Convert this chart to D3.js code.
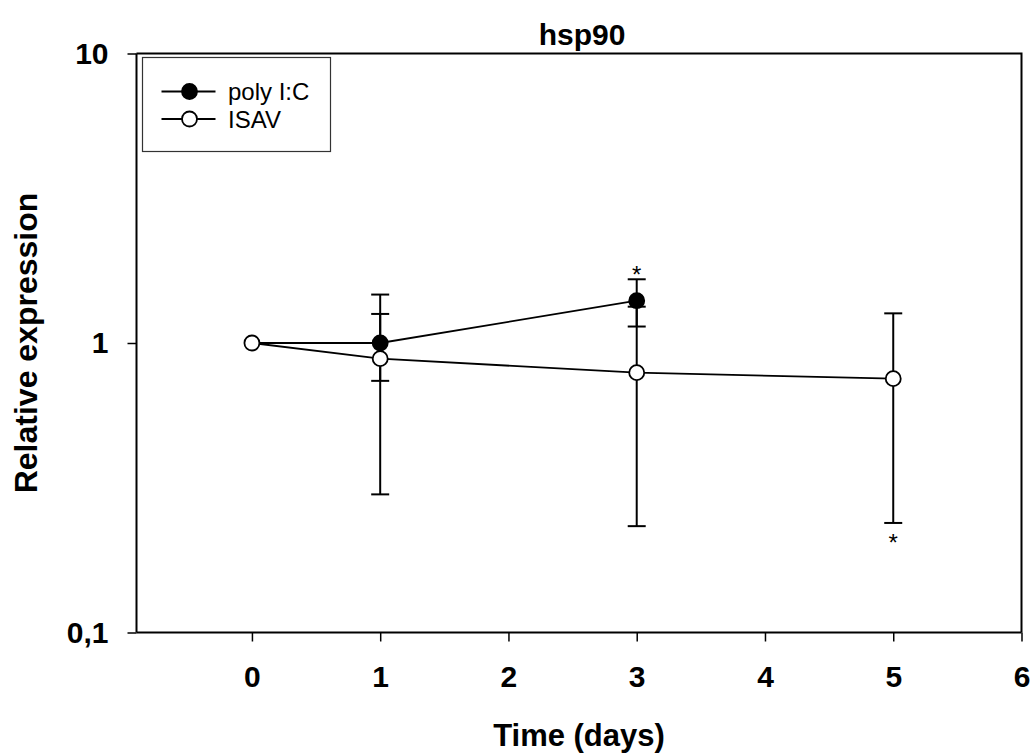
<!DOCTYPE html>
<html>
<head>
<meta charset="utf-8">
<script src="https://cdn.jsdelivr.net/npm/d3@7"></script>
<style>
  body { margin: 0; background: #fff; }
  svg { font-family: "Liberation Sans", Arial, sans-serif; }
</style>
</head>
<body>
<div id="chart"></div>
<script>
// days sampled
const days = [0, 1, 3, 5];

// poly I:C series (no day 5)
const polyDays = [0, 1, 3];
const polyMean = [1.0, 1.0, 1.40];
const polyLow = [null, 0.74, 1.14];
const polyHigh = [null, 1.26, 1.66];

// ISAV series
const isavDays = [0, 1, 3, 5];
const isavMean = [1.0, 0.883, 0.79, 0.753];
const isavLow = [null, 0.30, 0.233, 0.239];
const isavHigh = [null, 1.47, 1.335, 1.266];

const xTicks = [0, 1, 2, 3, 4, 5, 6];
const yTicks = [0.1, 1, 10];
const yTickLabels = ["0,1", "1", "10"];

const width = 1032, height = 753;
const margin = { top: 53.5, right: 10.5, bottom: 120.5, left: 136.5 };
const innerW = width - margin.left - margin.right;
const innerH = height - margin.top - margin.bottom;

const svg = d3.select("#chart").append("svg")
  .attr("width", width)
  .attr("height", height);

const g = svg.append("g")
  .attr("transform", `translate(${margin.left}, ${margin.top})`);

const x = d3.scaleLinear().domain([-0.9, 6]).range([0, innerW]);
const y = d3.scaleLog().domain([0.1, 10]).range([innerH, 0]);

// frame top + right
g.append("path")
  .attr("d", `M0,0H${innerW}V${innerH}`)
  .attr("fill", "none")
  .attr("stroke", "#000")
  .attr("stroke-width", 2);

// x axis
const xAxis = g.append("g")
  .attr("transform", `translate(0, ${innerH})`)
  .call(d3.axisBottom(x).tickValues(xTicks).tickSize(9).tickPadding(24).tickFormat(d3.format("d")));

// y axis
const yAxis = g.append("g")
  .call(d3.axisLeft(y).tickValues(yTicks).tickSize(9).tickPadding(19)
    .tickFormat((d, i) => yTickLabels[i]));

[xAxis, yAxis].forEach(ax => {
  ax.select(".domain").attr("stroke-width", 2);
  ax.selectAll(".tick line").attr("stroke-width", 1.5);
  ax.selectAll("text")
    .attr("font-size", "30px")
    .attr("font-weight", "bold")
    .attr("font-family", "Liberation Sans, Arial, sans-serif")
    .attr("fill", "#000");
});
xAxis.select(".domain").attr("d", `M0,0H${innerW}`);
yAxis.select(".domain").attr("d", `M0,${innerH}V0`);

// error bars
function drawErrors(xs, lo, hi) {
  xs.forEach((d, i) => {
    if (lo[i] == null) return;
    const cx = x(d);
    g.append("line")
      .attr("x1", cx).attr("x2", cx)
      .attr("y1", y(lo[i])).attr("y2", y(hi[i]))
      .attr("stroke", "#000").attr("stroke-width", 2);
    [lo[i], hi[i]].forEach(v => {
      g.append("line")
        .attr("x1", cx - 9).attr("x2", cx + 9)
        .attr("y1", y(v)).attr("y2", y(v))
        .attr("stroke", "#000").attr("stroke-width", 2);
    });
  });
}
drawErrors(isavDays, isavLow, isavHigh);
drawErrors(polyDays, polyLow, polyHigh);

const line = d3.line().x(d => x(d[0])).y(d => y(d[1]));

g.append("path")
  .datum(isavDays.map((d, i) => [d, isavMean[i]]))
  .attr("d", line)
  .attr("fill", "none").attr("stroke", "#000").attr("stroke-width", 1.8);

g.append("path")
  .datum(polyDays.map((d, i) => [d, polyMean[i]]))
  .attr("d", line)
  .attr("fill", "none").attr("stroke", "#000").attr("stroke-width", 1.8);

// markers
g.selectAll(".isav")
  .data(isavDays.map((d, i) => [d, isavMean[i]]))
  .enter().append("circle")
  .attr("cx", d => x(d[0])).attr("cy", d => y(d[1]))
  .attr("r", 7.5)
  .attr("fill", "#fff").attr("stroke", "#000").attr("stroke-width", 1.8);

g.selectAll(".poly")
  .data(polyDays.map((d, i) => [d, polyMean[i]]).slice(1))
  .enter().append("circle")
  .attr("cx", d => x(d[0])).attr("cy", d => y(d[1]))
  .attr("r", 7.5)
  .attr("fill", "#000").attr("stroke", "#000").attr("stroke-width", 1.8);

// significance marks
g.append("text")
  .attr("x", x(3)).attr("y", y(polyHigh[2]) + 3.5)
  .attr("text-anchor", "middle")
  .attr("font-size", "24px")
  .text("*");
g.append("text")
  .attr("x", x(5)).attr("y", y(isavLow[3]) + 28)
  .attr("text-anchor", "middle")
  .attr("font-size", "24px")
  .text("*");

// legend
const leg = g.append("g").attr("transform", "translate(6, 4)");
leg.append("rect")
  .attr("width", 188).attr("height", 94)
  .attr("fill", "#fff").attr("stroke", "#333").attr("stroke-width", 1.2);
const legItems = [
  { name: "poly I:C", fill: "#000" },
  { name: "ISAV", fill: "#fff" }
];
legItems.forEach((it, i) => {
  const ly = 34 + i * 27.5;
  leg.append("line")
    .attr("x1", 19).attr("x2", 73).attr("y1", ly).attr("y2", ly)
    .attr("stroke", "#000").attr("stroke-width", 1.8);
  leg.append("circle")
    .attr("cx", 47).attr("cy", ly).attr("r", 7.5)
    .attr("fill", it.fill).attr("stroke", "#000").attr("stroke-width", 1.8);
  leg.append("text")
    .attr("x", 85.5).attr("y", ly + 8.5)
    .attr("font-size", "24px")
    .text(it.name);
});

// titles
svg.append("text")
  .attr("x", 582).attr("y", 45)
  .attr("text-anchor", "middle")
  .attr("font-size", "30px").attr("font-weight", "bold")
  .text("hsp90");

svg.append("text")
  .attr("x", margin.left + innerW / 2).attr("y", 746)
  .attr("text-anchor", "middle")
  .attr("font-size", "31px").attr("font-weight", "bold")
  .text("Time (days)");

svg.append("text")
  .attr("transform", `translate(37, ${margin.top + innerH / 2}) rotate(-90)`)
  .attr("text-anchor", "middle")
  .attr("font-size", "32px").attr("font-weight", "bold")
  .text("Relative expression");
</script>
</body>
</html>
